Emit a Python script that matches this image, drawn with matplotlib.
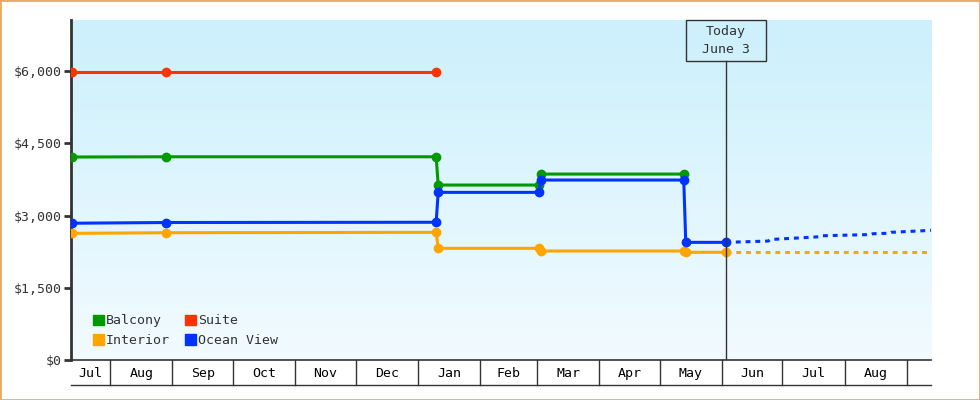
import numpy as np
import pandas as pd
import matplotlib
matplotlib.use('Agg')
import matplotlib.pyplot as plt
import matplotlib.dates as mdates
import matplotlib.transforms as mtransforms
from matplotlib.patches import Patch, Rectangle
from matplotlib.colors import LinearSegmentedColormap
from matplotlib.ticker import FuncFormatter

# price history
suite_dates = ['2022-07-13', '2022-08-29', '2023-01-10']
suite_prices = [5990, 5990, 5990]

balcony_dates = ['2022-07-13', '2022-08-29', '2023-01-10', '2023-01-11',
                 '2023-03-02', '2023-03-03', '2023-05-13']
balcony_prices = [4215, 4220, 4220, 3633, 3633, 3861, 3861]

ocean_dates = ['2022-07-13', '2022-08-29', '2023-01-10', '2023-01-11',
               '2023-03-02', '2023-03-03', '2023-05-13', '2023-05-14', '2023-06-03']
ocean_prices = [2840, 2855, 2860, 3481, 3481, 3737, 3737, 2443, 2443]

interior_dates = ocean_dates
interior_prices = [2630, 2643, 2651, 2319, 2319, 2263, 2263, 2236, 2236]

# forecast after today
ocean_fc_dates = ['2023-06-03', '2023-06-24', '2023-06-25', '2023-07-20', '2023-07-21',
                  '2023-08-14', '2023-08-15', '2023-08-23', '2023-08-24', '2023-09-13']
ocean_fc_prices = [2443, 2470, 2502, 2560, 2580, 2605, 2622, 2632, 2651, 2693]
interior_fc_dates = ['2023-06-03', '2023-09-13']
interior_fc_prices = [2236, 2236]

today = '2023-06-03'
today_label = 'Today\nJune 3'
y_ticks = [0, 1500, 3000, 4500, 6000]
x_start, x_end = '2022-07-12 14:00', '2023-09-12 20:00'

GREEN = '#009900'
RED = '#ff3300'
ORANGE = '#ffa500'
BLUE = '#0033ff'
DARK = '#333333'
FS = 9.5

plt.rcParams['font.family'] = ['DejaVu Sans Mono']

fig = plt.figure(figsize=(9.8, 4.0), dpi=100)
ax = fig.add_axes([71 / 980, 40 / 400, 860 / 980, 340 / 400])

# background gradient
cmap = LinearSegmentedColormap.from_list('bg', ['#f2fbff', '#ccf0fc'])
ax.imshow(np.linspace(0, 1, 256).reshape(-1, 1), cmap=cmap, aspect='auto',
          extent=[0, 1, 0, 1], transform=ax.transAxes, origin='lower', zorder=0)

def d(lst):
    return pd.to_datetime(lst)

lw = 2.2
ms = 6
ax.plot(d(suite_dates), suite_prices, color=RED, lw=lw, marker='o', ms=ms, zorder=3)
ax.plot(d(balcony_dates), balcony_prices, color=GREEN, lw=lw, marker='o', ms=ms, zorder=3)
ax.plot(d(interior_dates), interior_prices, color=ORANGE, lw=lw, marker='o', ms=ms, zorder=3)
ax.plot(d(ocean_dates), ocean_prices, color=BLUE, lw=lw, marker='o', ms=ms, zorder=4)
ax.plot(d(interior_fc_dates), interior_fc_prices, color=ORANGE, lw=lw, dashes=(1.6, 1.6), zorder=3)
ax.plot(d(ocean_fc_dates), ocean_fc_prices, color=BLUE, lw=lw, dashes=(1.6, 1.6), zorder=3)

x0 = mdates.date2num(pd.Timestamp(x_start))
x1 = mdates.date2num(pd.Timestamp(x_end))
ax.set_xlim(x0, x1)
ax.set_ylim(0, 7060)

ax.set_yticks(y_ticks)
ax.yaxis.set_major_formatter(FuncFormatter(lambda v, p: '${:,.0f}'.format(v)))
ax.tick_params(axis='y', direction='out', length=5, width=2, color=DARK,
               labelsize=FS, labelcolor=DARK, pad=2)
ax.set_xticks([])
for s in ['top', 'right']:
    ax.spines[s].set_visible(False)
ax.spines['left'].set_linewidth(2)
ax.spines['left'].set_color(DARK)
ax.spines['bottom'].set_linewidth(1.2)
ax.spines['bottom'].set_color(DARK)

# month band under the axis
trans = mtransforms.blended_transform_factory(ax.transData, ax.transAxes)
band = -25 / 340
ax.plot([x0, x1], [band, band], color=DARK, lw=1, transform=trans, clip_on=False)
months = pd.date_range('2022-07-01', '2023-10-01', freq='MS')
for m, m_next in zip(months[:-1], months[1:]):
    a = max(mdates.date2num(m), x0)
    b = min(mdates.date2num(m_next), x1)
    if mdates.date2num(m) > x0:
        ax.plot([a, a], [0, band], color=DARK, lw=1, transform=trans, clip_on=False)
    if b - a >= 15:
        ax.text((a + b) / 2, band / 2 - 0.003, m.strftime('%b'), ha='center', va='center',
                fontsize=FS, color='black', transform=trans)

# today marker
t = mdates.date2num(pd.Timestamp(today))
box_bottom = (360 - 61) / 340
ax.plot([t, t], [0, box_bottom], color=DARK, lw=1, transform=trans, zorder=5)
ax.add_patch(Rectangle((t - 19.9, box_bottom), 39.8, 1 - box_bottom, transform=trans,
                       fill=False, ec=DARK, lw=1, zorder=5, clip_on=False))
ax.text(t, (1 + box_bottom) / 2, today_label, ha='center', va='center', fontsize=FS,
        color=DARK, linespacing=1.5, transform=trans, zorder=5)

# legend
handles = [Patch(color=GREEN, label='Balcony'), Patch(color=ORANGE, label='Interior'),
           Patch(color=RED, label='Suite'), Patch(color=BLUE, label='Ocean View')]
ax.legend(handles=handles, ncol=2, loc='lower left', bbox_to_anchor=(0.025, 0.038),
          frameon=False, fontsize=FS, handlelength=0.85, handleheight=0.85,
          handletextpad=0.15, columnspacing=1.15, labelspacing=0.5, borderpad=0,
          borderaxespad=0, labelcolor=DARK)

# orange frame around the whole picture
fig.patches.append(Rectangle((0, 0), 1, 1, transform=fig.transFigure, fill=False,
                             ec='#e8aa64', lw=2))

fig.savefig('out.png', dpi=100)
